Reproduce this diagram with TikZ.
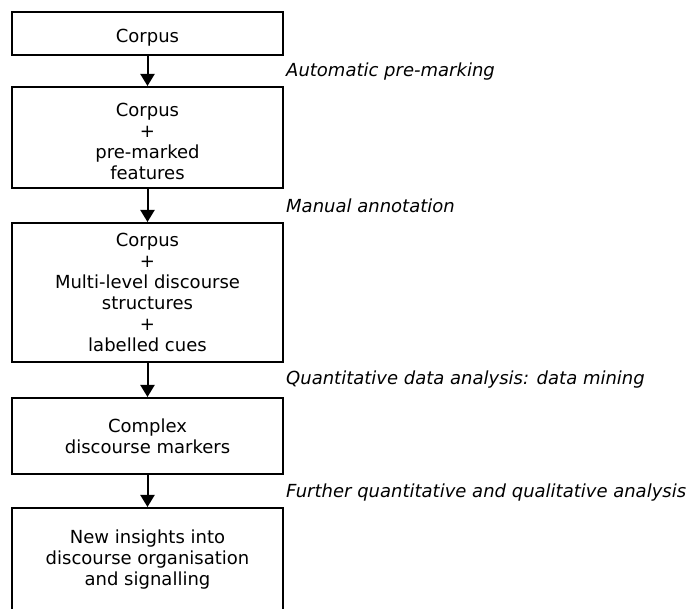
\documentclass[tikz,border=0pt]{standalone}
\usepackage{fontspec}
\setmainfont{DejaVu Sans}
\usetikzlibrary{arrows.meta}
\tikzset{
  box/.style={draw=black, line width=2pt, minimum width=271pt, align=center, inner sep=0pt,
    font=\fontsize{18pt}{21pt}\selectfont},
  lower/.style={execute at begin node={\rule{0pt}{#1}}},
  arr/.style={line width=2pt, -{Triangle[width=14pt,length=12pt]}},
  lab/.style={anchor=west, inner sep=0pt, font=\fontsize{18pt}{21pt}\selectfont\itshape}
}
\begin{document}
\begin{tikzpicture}[x=1pt,y=-1pt]
\useasboundingbox (0,0) rectangle (686,609);
\node[box, lower=21pt, minimum height=43pt] (b1) at (147.5,33.5) {Corpus};
\node[box, lower=85pt, minimum height=101pt] (b2) at (147.5,137.5) {Corpus\\+\\pre-marked\\features};
\node[box, minimum height=139pt] (b3) at (147.5,292.5) {Corpus\\+\\Multi-level discourse\\structures\\+\\labelled cues};
\node[box, minimum height=76pt] (b4) at (147.5,436) {Complex\\discourse markers};
\node[box, minimum height=104pt] (b5) at (147.5,560) {New insights into\\discourse organisation\\and signalling};
\draw[arr] (b1) -- (b2);
\draw[arr] (b2) -- (b3);
\draw[arr] (b3) -- (b4);
\draw[arr] (b4) -- (b5);
\node[lab] (l1) at (286,72) {Automatic pre-marking};
\node[lab] (l2) at (286,206) {Manual annotation};
\node[lab] (l3) at (286,380) {Quantitative data analysis: data mining};
\node[lab] (l4) at (286,493) {Further quantitative and qualitative analysis};
\end{tikzpicture}
\end{document}
